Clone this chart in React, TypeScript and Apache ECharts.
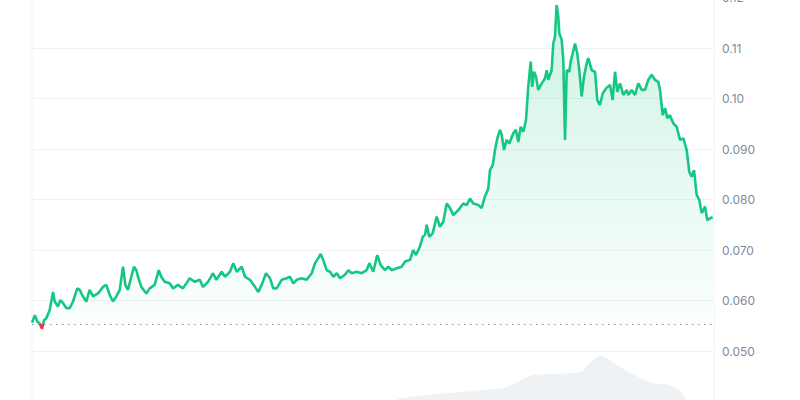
import React, { useEffect, useRef } from "react";
import * as echarts from "echarts";

// time axis: hours since start of window (30 days)
const hours = [
  0, 3, 5.6, 8.1, 10.6, 12.7, 15.1, 18.7, 22.2, 24,
  27.4, 29.9, 32.7, 36.2, 39.8, 43.3, 47.8, 50.4, 53.8, 57.3,
  60.9, 64.4, 69.7, 75, 78.4, 82, 85.5, 89, 92.6, 96.1,
  98.5, 101.3, 104.8, 107.7, 110.1, 111.9, 115.4, 120.7, 124.3, 129.5,
  133.8, 136.5, 140.1, 145.4, 148.9, 154.1, 159.4, 166.5, 171.8, 177.1,
  180.5, 185.8, 191.1, 194.6,
  200.3, 203.7, 209, 212.5, 216.1, 221.4, 224.9, 230.1, 235.4, 238.9,
  242.5, 247, 251.3, 254.7, 258.3, 263.6, 268.9, 272.4, 275.9, 279.4,
  284.7, 290, 295.3, 298.8, 302.2, 304.8, 307.5, 311.1, 314.6, 318.1,
  321.7, 325.2, 330.4, 333.9, 337.5, 342.8, 348.1, 353.3, 356.1, 360.3,
  364.5, 368.1, 372.7, 376.1, 379.7, 385, 390.3, 393.8, 399,
  402.5, 405.4, 409.6, 412.5, 414.9, 416.7, 419.4, 423, 427.2, 430.7,
  434.2, 437.8, 441.3, 444.8, 450, 455.3, 458.9, 462.4, 465.9, 471.2,
  474.7, 478.2, 481.7, 483.5, 486.4, 488.8, 491.2, 494.1, 495.9, 498.3,
  501.1, 503.9, 508.1, 510.9, 513.4, 515.9, 518.7, 521.5,
  523.9, 526.5, 528.1, 530, 532.1, 534.5, 538.1, 541.6, 543.4, 545.1,
  548.6, 550.3, 552.1, 553.9, 555.6, 556.7, 559.2, 560.9, 562.7, 564.5,
  567.2, 568.7, 570.8, 573.3, 575.7, 577.8, 580.3, 582.7, 585.6, 587.3,
  590.9, 594.4, 596.8, 599.6, 602.5, 606, 610.2,
  613, 615.5, 617.9, 620.8, 624.2, 627.8, 629.5, 633.1, 636.6, 640.1,
  643.7, 647.2, 650.6, 654.2, 657.7, 661.2, 663, 665.8, 668.3, 670.7,
  673.5, 677, 680.6, 684.1, 687.6, 691.2, 693.9, 696.4, 698.9, 701.7,
  704.5, 707, 710.5, 712.9, 715.8, 718.6,
];

const prices = [
  0.0556, 0.0571, 0.0558, 0.0555, 0.0544, 0.0561, 0.0565, 0.0581, 0.0617, 0.0598,
  0.0588, 0.0601, 0.0595, 0.0585, 0.0585, 0.0598, 0.0624, 0.0621, 0.0608, 0.0598,
  0.0621, 0.0608, 0.0614, 0.0627, 0.0631, 0.0611, 0.0598, 0.0608, 0.0621, 0.0667,
  0.0631, 0.0621, 0.0647, 0.0667, 0.066, 0.0647, 0.0627, 0.0614, 0.0624, 0.0631,
  0.066, 0.0647, 0.0637, 0.0634, 0.0624, 0.0631, 0.0624, 0.0644, 0.0637, 0.0641,
  0.0627, 0.0637, 0.0654, 0.0641,
  0.0657, 0.0647, 0.0657, 0.0674, 0.0657, 0.0667, 0.0647, 0.0641, 0.0627, 0.0617,
  0.0631, 0.0654, 0.0644, 0.0624, 0.0624, 0.0641, 0.0644, 0.0647, 0.0634, 0.0641,
  0.0644, 0.0641, 0.0654, 0.0674, 0.0684, 0.0692, 0.068, 0.066, 0.0657, 0.0647,
  0.0654, 0.0644, 0.0651, 0.066, 0.0654, 0.0657, 0.0654, 0.066, 0.0674, 0.0657,
  0.069, 0.067, 0.066, 0.0667, 0.066, 0.0664, 0.0667, 0.0677, 0.068,
  0.07, 0.069, 0.0707, 0.0726, 0.073, 0.075, 0.0726, 0.0733, 0.0766, 0.0746,
  0.0756, 0.0792, 0.0783, 0.0769, 0.0779, 0.0792, 0.0789, 0.0802, 0.0792, 0.0789,
  0.0783, 0.0806, 0.0822, 0.0858, 0.0868, 0.0898, 0.0921, 0.0938, 0.0928, 0.0898,
  0.0918, 0.0911, 0.0931, 0.0938, 0.0914, 0.0944, 0.0934, 0.0957,
  0.1023, 0.1073, 0.1023, 0.1053, 0.1043, 0.1017, 0.103, 0.104, 0.1056, 0.1037,
  0.1056, 0.1109, 0.1122, 0.1185, 0.1162, 0.1129, 0.1116, 0.1076, 0.0918, 0.1056,
  0.1053, 0.1073, 0.1089, 0.1109, 0.1089, 0.1056, 0.1004, 0.1043, 0.107, 0.108,
  0.1056, 0.1053, 0.0997, 0.0987, 0.101, 0.102, 0.1027,
  0.0997, 0.1053, 0.1013, 0.103, 0.1007, 0.1017, 0.1007, 0.1017, 0.1007, 0.103,
  0.1017, 0.1017, 0.1037, 0.1047, 0.1037, 0.1033, 0.1017, 0.0967, 0.0981, 0.0961,
  0.0967, 0.0951, 0.0944, 0.0918, 0.0921, 0.0898, 0.0855, 0.0845, 0.0858, 0.0809,
  0.0799, 0.0773, 0.0786, 0.0759, 0.0763, 0.0765,
];

const baselinePrice = 0.0553;

const volumeHours = [0, 72, 177, 283, 367, 388.5, 417, 476, 501.5, 525.6, 546.7, 578.5, 589, 599.6, 622.9, 651.4, 672.5, 683, 690.4, 699, 719];
const volumes = [35, 40, 45, 50, 54, 58, 60.7, 64.3, 66.4, 74.3, 75.7, 77.1, 83.6, 88.6, 80, 70, 67.9, 64.3, 57.1, 45, 40];

const priceTicks = { min: 0.04, max: 0.12, step: 0.01 };

export default function App() {
  const ref = useRef<HTMLDivElement>(null);
  useEffect(() => {
    if (!ref.current) return;
    const chart = echarts.init(ref.current, null, { renderer: "svg" });
    const green = "#16c784";
    chart.setOption({
      animation: false,
      backgroundColor: "#ffffff",
      grid: [
        {
          left: 32,
          right: 86,
          top: -2.5,
          bottom: -1.5,
          show: true,
          borderColor: "#eff2f5",
          borderWidth: 1,
          containLabel: false,
          outerBoundsMode: "none",
        },
        {
          left: 32,
          right: 86,
          top: 340,
          bottom: -80,
          containLabel: false,
          outerBoundsMode: "none",
        },
      ],
      xAxis: [
        { type: "value", gridIndex: 0, min: 0, max: 720, show: false },
        { type: "value", gridIndex: 1, min: 0, max: 720, show: false },
      ],
      yAxis: [
        {
          type: "value",
          gridIndex: 0,
          position: "right",
          min: priceTicks.min,
          max: priceTicks.max,
          interval: priceTicks.step,
          axisLine: { show: false },
          axisTick: { show: false },
          splitLine: { show: true, lineStyle: { color: "#eff2f5", width: 1 } },
          axisLabel: {
            color: "#808a9d",
            fontSize: 12,
            fontFamily: "Inter",
            margin: 8,
            showMinLabel: false,
            formatter: (v: number) => (v >= 0.0995 ? v.toFixed(2) : v.toFixed(3)),
          },
        },
        { type: "value", gridIndex: 1, min: 0, max: 100, show: false },
      ],
      visualMap: {
        show: false,
        type: "piecewise",
        seriesIndex: 1,
        dimension: 1,
        pieces: [
          { lt: baselinePrice, color: "#ea3943" },
          { gte: baselinePrice, lte: 1, color: green },
          { gt: 1, color: green },
        ],
      },
      series: [
        {
          type: "line",
          xAxisIndex: 1,
          yAxisIndex: 1,
          data: volumeHours.map((h, i) => [h, volumes[i]]),
          showSymbol: false,
          smooth: 0.3,
          lineStyle: { width: 0 },
          itemStyle: { color: "#eff2f5" },
          areaStyle: { color: "#eff2f5", opacity: 1 },
          z: 1,
        },
        {
          type: "line",
          xAxisIndex: 0,
          yAxisIndex: 0,
          data: hours.map((h, i) => [h, prices[i]]),
          showSymbol: false,
          lineStyle: { width: 2.6 },
          areaStyle: {
            origin: baselinePrice,
            color: new echarts.graphic.LinearGradient(0, 0, 0, 1, [
              { offset: 0, color: "rgba(22,199,132,0.30)" },
              { offset: 1, color: "rgba(22,199,132,0.02)" },
            ]),
          },
          markLine: {
            silent: true,
            symbol: "none",
            precision: 5,
            label: { show: false },
            lineStyle: { type: [1.5, 4.5], color: "#8d94a3", width: 1 },
            data: [{ yAxis: baselinePrice }],
          },
          z: 3,
        },
      ],
    });
    return () => chart.dispose();
  }, []);
  return (
    <div
      ref={ref}
      style={{ position: "fixed", left: 0, top: 0, width: 800, height: 400 }}
    />
  );
}
